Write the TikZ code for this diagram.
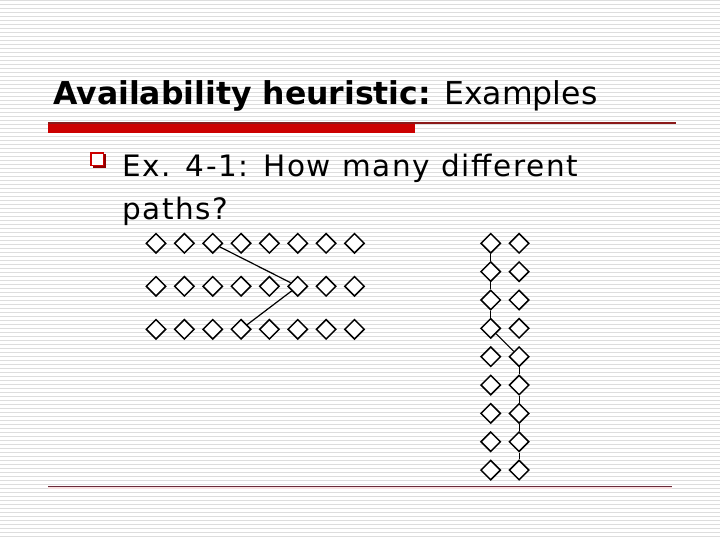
\documentclass[tikz,border=0pt]{standalone}
\usepackage{fontspec}
\setmainfont{DejaVu Sans}
\newfontfamily\spacedfont[LetterSpace=5.6]{DejaVu Sans}
\usetikzlibrary{shapes.geometric}
\definecolor{stripe}{HTML}{DDDDDD}
\definecolor{barred}{HTML}{CC0000}
\definecolor{thinred}{HTML}{8B1A1A}
\definecolor{botline}{HTML}{6B2A3A}
\definecolor{botpink}{HTML}{F7E0E0}
\tikzset{
  dia/.style={diamond, draw=black, fill=white, line width=1.5pt, inner sep=0pt, minimum width=20pt, minimum height=20pt},
  link/.style={draw=black, line width=1.2pt},
  txt/.style={anchor=base west, inner sep=0pt, text=black}
}
\begin{document}
\begin{tikzpicture}[x=1pt,y=-1pt]
\useasboundingbox (0,0) rectangle (720,540);
\fill[white] (0,0) rectangle (720,540);
\foreach \k in {0,...,134} {
  \fill[stripe] (0,{4*\k}) rectangle (720,{4*\k+1.3});
}
% title
\node[txt] (title) at (53,105) {\fontsize{31.5}{36}\selectfont\textbf{Availability heuristic:} Examples};
% rules
\fill[thinred] (48,122.5) rectangle (676,123.6);
\fill[barred] (48,124) rectangle (414.5,133);
\fill[botpink] (48,487) rectangle (672,489);
\fill[botline] (48,485.5) rectangle (672,487);
% bullet
\fill[barred!70!black] (92.5,154.5) rectangle (105.5,168);
\draw[barred, line width=1.8pt, fill=white] (91,153) rectangle (103.5,165.5);
\node[txt] (l1) at (122,177) {\spacedfont\fontsize{29.5}{34}\selectfont Ex. 4-1: How many different};
\node[txt] (l2) at (122,219) {\spacedfont\fontsize{29.5}{34}\selectfont paths?};
% left grid
\foreach \r/\y in {1/243.3,2/286.3,3/329.3} {
  \foreach \c in {1,...,8} {
    \node[dia] (L\r\c) at ({156+28.35*(\c-1)},\y) {};
  }
}
\draw[link] (L13) -- (L26);
\draw[link] (L26) -- (L34);
% right grid
\foreach \r in {1,...,9} {
  \node[dia] (R\r1) at (490.7,{243.3+28.35*(\r-1)}) {};
  \node[dia] (R\r2) at (519.1,{243.3+28.35*(\r-1)}) {};
}
\draw[link] (R11) -- (R21);
\draw[link] (R21) -- (R31);
\draw[link] (R31) -- (R41);
\draw[link] (R41) -- (R52);
\draw[link] (R52) -- (R62);
\draw[link] (R62) -- (R72);
\draw[link] (R72) -- (R82);
\draw[link] (R82) -- (R92);
\end{tikzpicture}
\end{document}
